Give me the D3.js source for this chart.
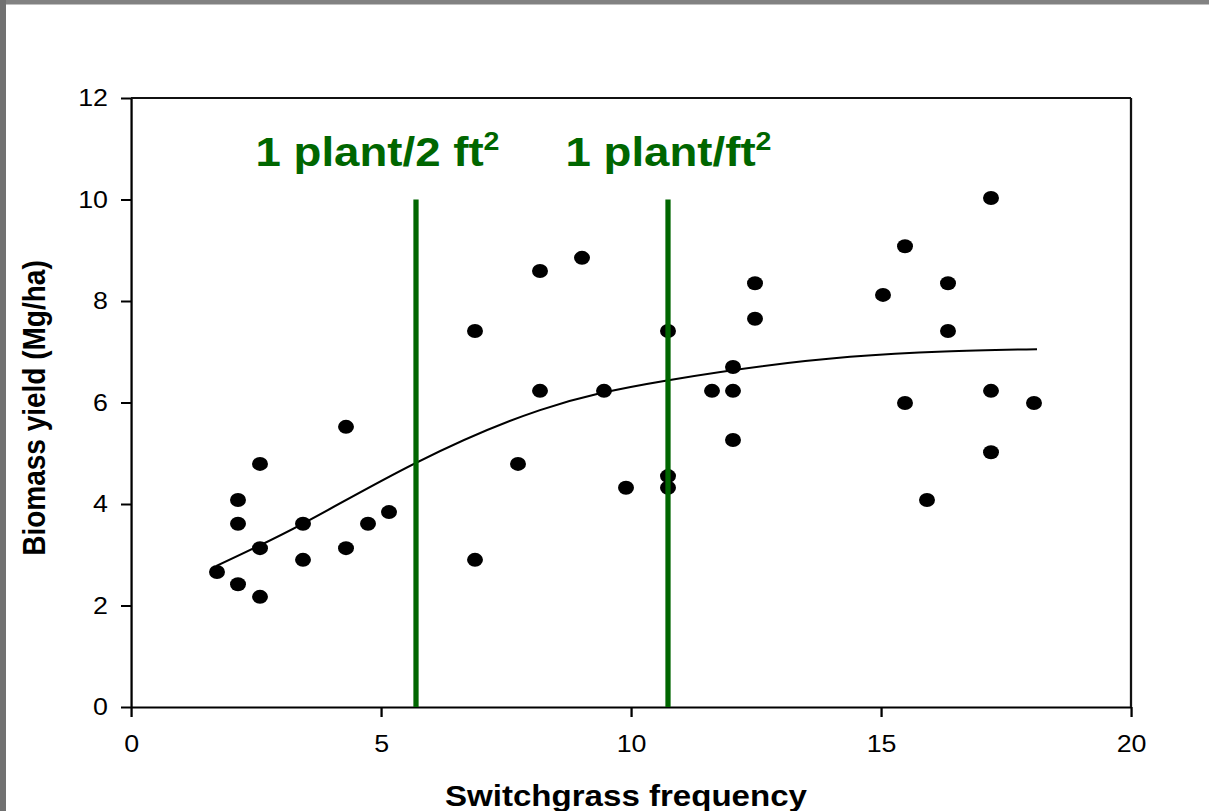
<!DOCTYPE html>
<html>
<head>
<meta charset="utf-8">
<script src="https://cdn.jsdelivr.net/npm/d3@7/dist/d3.min.js"></script>
<style>
  html, body { margin: 0; padding: 0; background: #ffffff; overflow: hidden; }
  svg { display: block; }
  text { font-family: "Liberation Sans", Arial, sans-serif; }
</style>
</head>
<body>
<script>
// ---- data ----
const freqX = [1.72, 2.14, 2.14, 2.14, 2.58, 2.58, 2.58, 3.44, 3.44, 4.30,
               4.30, 4.74, 5.16, 6.88, 6.88, 7.74, 8.18, 8.18, 9.02, 9.46,
               9.90, 10.74, 10.74, 10.74, 11.62, 12.04, 12.04, 12.04, 12.48, 12.48,
               15.04, 15.48, 15.48, 15.92, 16.34, 16.34, 17.20, 17.20, 17.20, 18.06];
const yieldY = [2.66, 4.08, 3.61, 2.42, 4.79, 3.13, 2.17, 3.61, 2.90, 5.52,
                3.13, 3.61, 3.84, 7.41, 2.90, 4.79, 8.59, 6.23, 8.85, 6.23,
                4.32, 7.41, 4.55, 4.32, 6.23, 6.70, 6.23, 5.26, 8.35, 7.65,
                8.12, 9.08, 5.99, 4.08, 8.35, 7.41, 10.03, 6.23, 5.02, 5.99];
// fitted curve, points
const fitX = [1.71, 3.45, 5.68, 8.18, 10.75, 14.38, 18.12];
const fitY = [2.78, 3.62, 4.80, 5.85, 6.44, 6.90, 7.05];
// planting-density reference lines
const refX = [5.70, 10.74];
const refTop = 10;
const refLabels = ["1 plant/2 ft", "1 plant/ft"];
const refLabelX = [4.93, 10.75];
const xTicks = [0, 5, 10, 15, 20];
const yTicks = [0, 2, 4, 6, 8, 10, 12];
const xTitle = "Switchgrass frequency";
const yTitle = "Biomass yield (Mg/ha)";

// ---- layout (the picture is stretched horizontally) ----
const W = 1209, H = 811;
const SX = 1209 / 1060;          // horizontal stretch factor
const VW = W / SX;               // viewBox width
const mLeft = 131 / SX, mRight = 1131 / SX, mTop = 98, mBottom = 707;

const svg = d3.select("body").append("svg")
  .attr("width", W).attr("height", H)
  .attr("viewBox", `0 0 ${VW} ${H}`)
  .attr("preserveAspectRatio", "none");

svg.append("rect").attr("x", 0).attr("y", 0).attr("width", VW).attr("height", H).attr("fill", "#fff");
// slide frame
svg.append("rect").attr("x", 0).attr("y", 0).attr("width", VW).attr("height", 4.5).attr("fill", "#828282");
svg.append("rect").attr("x", 0).attr("y", 0).attr("width", 6 / SX).attr("height", H).attr("fill", "#717171");

const x = d3.scaleLinear().domain([0, 20]).range([mLeft, mRight]);
const y = d3.scaleLinear().domain([0, 12]).range([mBottom, mTop]);

// axes
const gx = svg.append("g").attr("transform", `translate(0,${mBottom})`)
  .call(d3.axisBottom(x).tickValues(xTicks).tickFormat(d3.format("d")).tickSizeInner(10).tickSizeOuter(0).tickPadding(18));
const gy = svg.append("g").attr("transform", `translate(${mLeft},0)`)
  .call(d3.axisLeft(y).tickValues(yTicks).tickFormat(d3.format("d")).tickSizeInner(10 / SX).tickSizeOuter(0).tickPadding(11.4));
[gx, gy].forEach(g => {
  g.selectAll("path, line").attr("stroke", "#000").attr("stroke-width", 2);
  g.selectAll("text").attr("font-size", 23.5).attr("fill", "#000")
    .attr("font-family", "'Liberation Sans', Arial, sans-serif");
});
// frame top/right
svg.append("line").attr("x1", mLeft).attr("x2", mRight).attr("y1", mTop).attr("y2", mTop)
  .attr("stroke", "#111").attr("stroke-width", 2);
svg.append("line").attr("x1", mRight).attr("x2", mRight).attr("y1", mTop).attr("y2", mBottom)
  .attr("stroke", "#111").attr("stroke-width", 2);

// fitted curve
const fit = fitX.map((d, i) => [d, fitY[i]]);
svg.append("path").datum(fit)
  .attr("fill", "none").attr("stroke", "#000").attr("stroke-width", 2)
  .attr("d", d3.line().x(d => x(d[0])).y(d => y(d[1])).curve(d3.curveNatural));

// points
const pts = freqX.map((d, i) => [d, yieldY[i]]);
svg.append("g").selectAll("circle").data(pts).join("circle")
  .attr("cx", d => x(d[0])).attr("cy", d => y(d[1])).attr("r", 7).attr("fill", "#000");

// reference lines
svg.append("g").selectAll("line").data(refX).join("line")
  .attr("x1", d => x(d)).attr("x2", d => x(d))
  .attr("y1", y(refTop)).attr("y2", y(0))
  .attr("stroke", "#006600").attr("stroke-width", 4.6);

const lab = svg.append("g").selectAll("text").data(refLabels).join("text")
  .attr("x", (d, i) => x(refLabelX[i])).attr("y", 166)
  .attr("text-anchor", "middle").attr("font-size", 40).attr("font-weight", "bold")
  .attr("fill", "#006600");
lab.append("tspan").text(d => d);
lab.append("tspan").attr("dy", -16).attr("font-size", 25).text("2");

// titles
svg.append("text").attr("x", x(9.9)).attr("y", 806)
  .attr("text-anchor", "middle").attr("font-size", 29).attr("font-weight", "bold").attr("fill", "#000")
  .text(xTitle);
svg.append("text").attr("transform", `translate(${45 / SX},408) rotate(-90)`)
  .attr("text-anchor", "middle").attr("font-size", 28).attr("font-weight", "bold").attr("fill", "#000")
  .text(yTitle);
</script>
</body>
</html>
